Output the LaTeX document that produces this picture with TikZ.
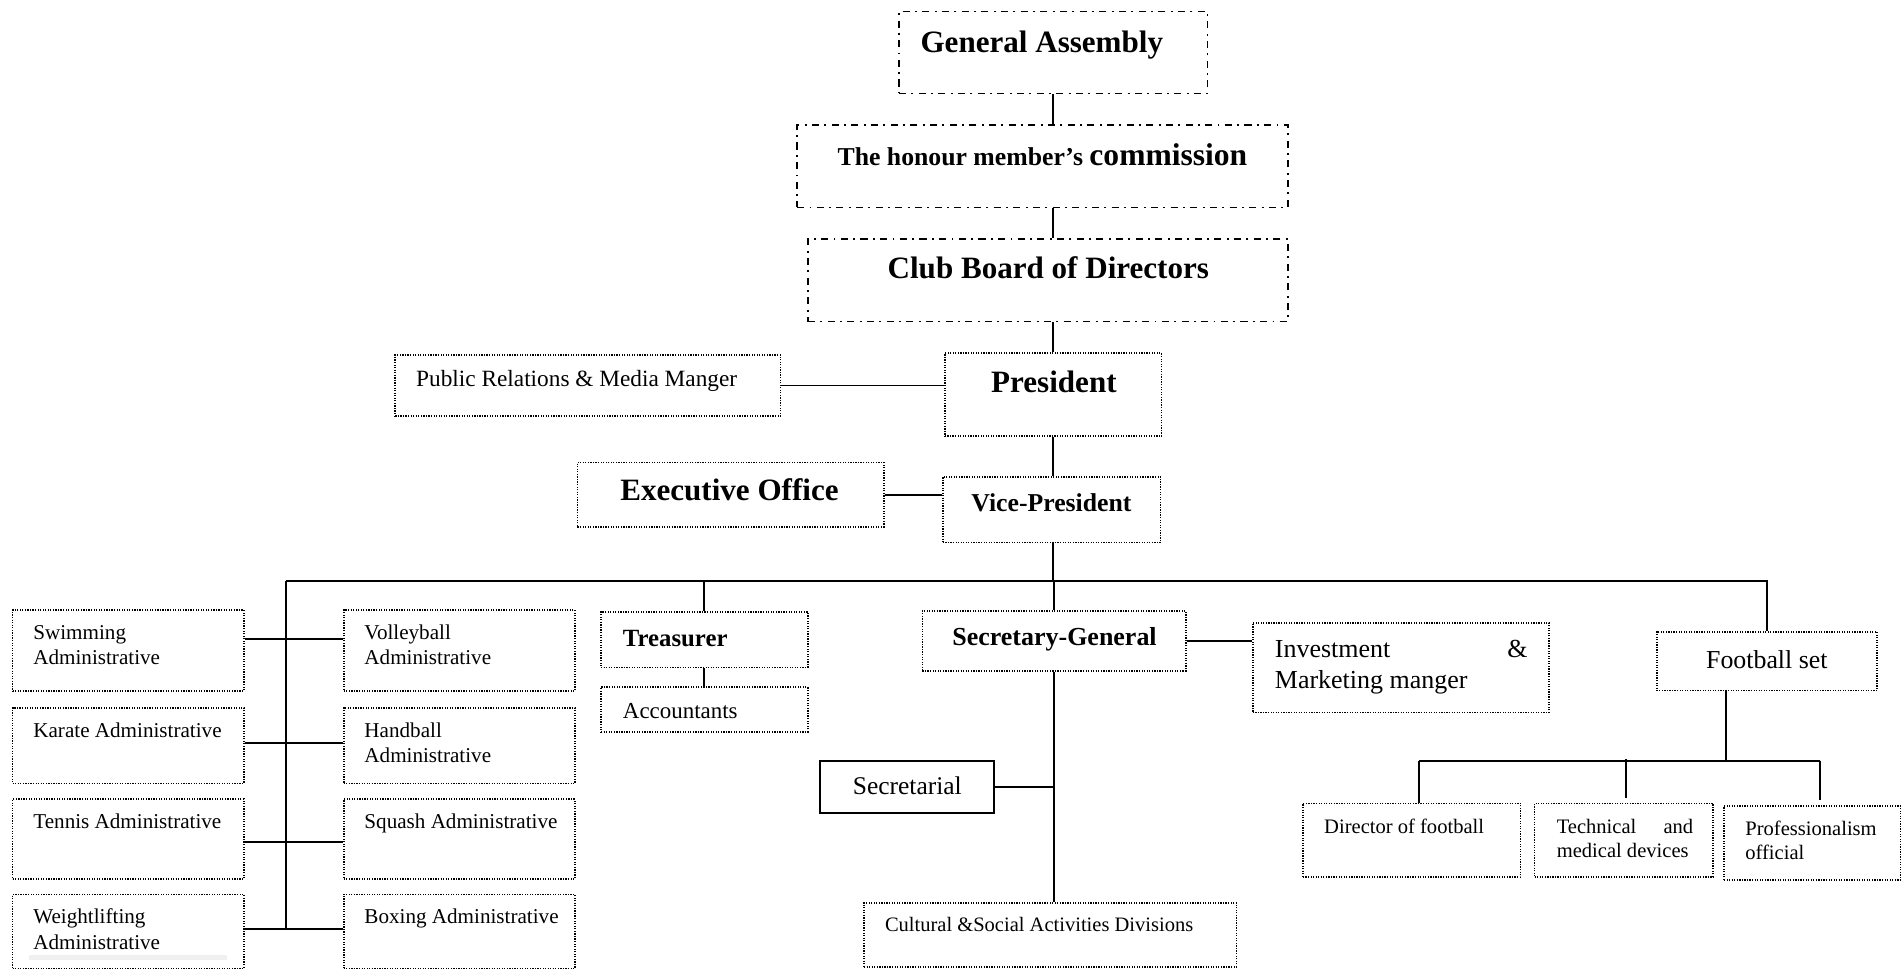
\documentclass[tikz,border=0pt]{standalone}
\usepackage{fontspec}
\setmainfont{Liberation Serif}
\usetikzlibrary{fit}

\tikzset{
  dashdotbox/.style={draw, line width=0.55pt,
    dash pattern=on 2.9pt off 2.2pt on 0.8pt off 2.2pt, inner sep=0pt},
  dotbox/.style={draw, line width=0.7pt, dash pattern=on 0.5pt off 0.55pt, inner sep=0pt},
  solidbox/.style={draw, line width=0.8pt, inner sep=0pt},
  conn/.style={line width=0.8pt},
  txt/.style={inner sep=0pt, anchor=base west},
  mtxt/.style={inner sep=0pt, anchor=north west, align=left},
  bigbold/.style={font=\bfseries\fontsize{12.8}{15}\selectfont},
  sporttxt/.style={mtxt, font=\fontsize{8.7}{10.5}\selectfont},
}

% one sports administration box with its caption
\newcommand\sportbox[6]{%
  \node[dotbox, fit={(#2,#3) (#4,#5)}] (#1) {};
  \node[sporttxt] (#1-t) at ([shift={(17.4,9.8)}]#1.north west) {#6};
}

\begin{document}
\begin{tikzpicture}[x=0.5pt, y=-0.5pt]
\fill[white] (0,0) rectangle (1568,799);
\useasboundingbox (0,0) rectangle (1568,799);

% ---------- governing bodies ----------
\node[dashdotbox, fit={(740.7,9.6) (995,76.9)}] (ga) {};
\node[txt, bigbold] (ga-t) at (758.1,43.4) {General Assembly};

\node[dashdotbox, fit={(656.8,103) (1061.2,170.8)}] (hon) {};
\node[txt, font=\bfseries] (hon-t) at (689.8,136)
  {{\fontsize{10.6}{12}\selectfont The honour member’s }{\fontsize{13}{15}\selectfont commission}};

\node[dashdotbox, fit={(665.7,196.9) (1061.2,265)}] (club) {};
\node[txt, bigbold] (club-t) at (731,229.3) {Club Board of Directors};

% ---------- executive ----------
\node[dotbox, fit={(778.5,291.1) (957.1,359.3)}] (pres) {};
\node[txt, bigbold] (pres-t) at (816.3,323.3) {President};

\node[dotbox, fit={(325.7,292.5) (643.1,342.8)}] (pr) {};
\node[txt, font=\fontsize{9.6}{11.5}\selectfont] (pr-t) at (342.5,318.6) {Public Relations \& Media Manger};

\node[dotbox, fit={(475.8,381) (728.1,434)}] (exec) {};
\node[txt, bigbold] (exec-t) at (510.7,412.6) {Executive Office};

\node[dotbox, fit={(776.8,392.8) (956.3,447)}] (vp) {};
\node[txt, font=\bfseries\fontsize{10.6}{12.5}\selectfont] (vp-t) at (800,421.6) {Vice-President};

% ---------- departments ----------
\node[dotbox, fit={(495.2,504) (665.5,549.9)}] (treas) {};
\node[txt, font=\bfseries\fontsize{10.2}{12}\selectfont] (treas-t) at (512.9,532.9) {Treasurer};

\node[dotbox, fit={(495.2,566.3) (665.5,602.9)}] (acc) {};
\node[txt, font=\fontsize{9.45}{11}\selectfont] (acc-t) at (512.9,591.9) {Accountants};

\node[dotbox, fit={(760,503.5) (977.1,552.6)}] (sg) {};
\node[txt, font=\bfseries\fontsize{10.7}{12.5}\selectfont] (sg-t) at (784.3,531.5) {Secretary-General};

\node[dotbox, fit={(1032.2,513.1) (1276.2,587)}] (inv) {};
\node[mtxt, font=\fontsize{10.7}{12.8}\selectfont] (inv-t) at (1050.1,523.7)
  {\strut\hbox to 104.1pt{Investment\hfill\&}\\\strut Marketing manger};

\node[dotbox, fit={(1365,520.5) (1546.6,569)}] (fb) {};
\node[txt, font=\fontsize{10.65}{12.5}\selectfont] (fb-t) at (1405.4,550.7) {Football set};

\node[solidbox, fit={(675.4,626.8) (818.9,670.2)}] (sec) {};
\node[txt, font=\fontsize{10.5}{12.5}\selectfont] (sec-t) at (702.3,655) {Secretarial};

\node[dotbox, fit={(711.9,743.8) (1018.7,796.5)}] (cult) {};
\node[txt, font=\fontsize{8.45}{10}\selectfont] (cult-t) at (728.8,767.7) {Cultural \&Social Activities Divisions};

% ---------- football set ----------
\node[dotbox, fit={(1073.5,662) (1252.9,722.4)}] (dir) {};
\node[txt, font=\fontsize{8.47}{10}\selectfont] (dir-t) at (1090.7,686.6) {Director of football};

\node[dotbox, fit={(1264.4,662) (1411.5,722.4)}] (tech) {};
\node[mtxt, font=\fontsize{8.47}{9.65}\selectfont] (tech-t) at (1282.3,673.1)
  {\strut\hbox to 56.2pt{Technical\hfill and}\\\strut medical devices};

\node[dotbox, fit={(1420.5,664.2) (1565.9,725.1)}] (prof) {};
\node[mtxt, font=\fontsize{8.47}{10}\selectfont] (prof-t) at (1437.7,674)
  {\strut Professionalism\\\strut official};

% ---------- sports administrations ----------
\sportbox{swim}{10.4}{502.6}{200.9}{569.4}{\strut Swimming\\\strut Administrative}
\sportbox{volley}{283.2}{502.6}{473.6}{569.4}{\strut Volleyball\\\strut Administrative}
\sportbox{karate}{10.4}{583.1}{200.9}{645.5}{\strut Karate Administrative}
\sportbox{hand}{283.2}{583.1}{473.6}{645.5}{\strut Handball\\\strut Administrative}
\sportbox{tennis}{10.4}{658.6}{200.9}{724.3}{\strut Tennis Administrative}
\sportbox{squash}{283.2}{658.6}{473.6}{724.3}{\strut Squash Administrative}
\sportbox{weight}{10.4}{736.9}{200.9}{798}{\strut Weightlifting\\\strut Administrative}
\sportbox{boxing}{283.2}{736.9}{473.6}{798}{\strut Boxing Administrative}
\fill[black!6] (23.7,787) rectangle (186.7,791);

% ---------- junction points ----------
\coordinate (busL) at (236,478.5);
\coordinate (busR) at (1456,478.5);
\coordinate (j1) at (236,526.8);
\coordinate (j2) at (236,612);
\coordinate (j3) at (236,693.5);
\coordinate (j4) at (236,765.8);
\coordinate (fbBus) at (1422.3,626.8);
\coordinate (fbL) at (1169.3,626.8);
\coordinate (fbM) at (1339.8,625.7);
\coordinate (fbR) at (1499.8,626.8);

% ---------- connectors ----------
\draw[conn] (ga.south) -- (ga.south |- hon.north);
\draw[conn] (hon.south -| ga.south) -- (club.north -| ga.south);
\draw[conn] (club.south -| pres.north) -- (pres.north);
\draw[conn] (pr.east) -- (pr.east -| pres.west);
\draw[conn] (pres.south) -- (pres.south |- vp.north);
\draw[conn] (exec.east) -- (exec.east -| vp.west);
\draw[conn] (pres.south |- vp.south) -- (pres.south |- busL);
\draw[conn] (busL) -- (busR) -- (fb.north -| busR);
\draw[conn] (treas.north |- busL) -- (treas.north);
\draw[conn] (treas.south) -- (acc.north);
\draw[conn] (sg.north |- busL) -- (sg.north);
\draw[conn] (sg.east) -- (sg.east -| inv.west);
\draw[conn] (sg.south) -- (sg.south |- cult.north);
\draw[conn] (sec.east) -- (sec.east -| sg.south);

% sports spine
\draw[conn] (busL) -- (j4);
\draw[conn] (swim.east |- j1) -- (volley.west |- j1);
\draw[conn] (karate.east |- j2) -- (hand.west |- j2);
\draw[conn] (tennis.east |- j3) -- (squash.west |- j3);
\draw[conn] (weight.east |- j4) -- (boxing.west |- j4);

% football set branch
\draw[conn] (fb.south -| fbBus) -- (fbBus);
\draw[conn] (fbL) -- (fbR);
\draw[conn] (fbL) -- (fbL |- dir.north);
\draw[conn] (fbM) -- ([yshift=1.7pt]fbM |- tech.north);
\draw[conn] (fbR) -- ([yshift=2.2pt]fbR |- prof.north);
\end{tikzpicture}
\end{document}
